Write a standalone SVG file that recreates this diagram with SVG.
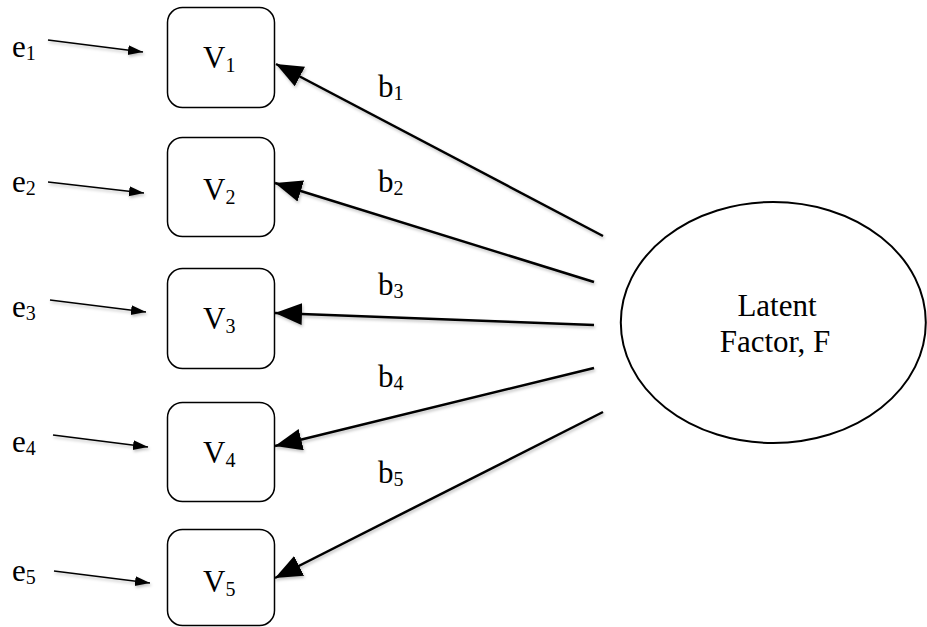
<svg xmlns="http://www.w3.org/2000/svg" width="927" height="627" viewBox="0 0 927 627">
<style>
  text { font-family: "Liberation Serif", "Times New Roman", serif; fill: #000; }
  .lbl { font-size: 31px; }
  .sub { font-size: 20px; }
  .box { fill: #fff; stroke: #000; stroke-width: 1.5; }
  .big { stroke: #000; stroke-width: 2.5; fill: none; marker-end: url(#bigHead); }
  .small { stroke: #000; stroke-width: 1.5; fill: none; marker-end: url(#smallHead); }
</style>
<defs>
  <filter id="sh" x="-10%" y="-10%" width="130%" height="130%">
    <feDropShadow dx="1" dy="2" stdDeviation="1.5" flood-color="#000" flood-opacity="0.25"/>
  </filter>
  <marker id="bigHead" markerUnits="userSpaceOnUse" markerWidth="28" markerHeight="24" refX="27" refY="11" orient="auto">
    <path d="M0,0 L27,11 L0,22 z" fill="#000"/>
  </marker>
  <marker id="smallHead" markerUnits="userSpaceOnUse" markerWidth="16" markerHeight="12" refX="15" refY="5" orient="auto">
    <path d="M0,0 L15,5 L0,10 z" fill="#000"/>
  </marker>
</defs>

<g id="connectors" filter="url(#sh)">
  <line class="small" x1="48" y1="40" x2="143" y2="52"/>
  <line class="small" x1="48" y1="182" x2="144" y2="193"/>
  <line class="small" x1="50" y1="300" x2="146" y2="312"/>
  <line class="small" x1="53" y1="435" x2="148" y2="447"/>
  <line class="small" x1="54" y1="571" x2="150" y2="583"/>
  <line class="big" x1="603" y1="236" x2="276" y2="64"/>
  <line class="big" x1="594" y1="282" x2="275" y2="183"/>
  <line class="big" x1="594" y1="325" x2="275" y2="313"/>
  <line class="big" x1="594" y1="368" x2="275" y2="446"/>
  <line class="big" x1="603" y1="412" x2="275" y2="578"/>
</g>

<g id="labels-e">
  <text class="lbl" x="12" y="57">e<tspan class="sub" dy="3">1</tspan></text>
  <text class="lbl" x="12" y="192">e<tspan class="sub" dy="3">2</tspan></text>
  <text class="lbl" x="12" y="317">e<tspan class="sub" dy="3">3</tspan></text>
  <text class="lbl" x="12" y="452">e<tspan class="sub" dy="3">4</tspan></text>
  <text class="lbl" x="12" y="581">e<tspan class="sub" dy="3">5</tspan></text>
</g>

<g id="labels-b">
  <text class="lbl" x="378" y="97">b<tspan class="sub" dy="3">1</tspan></text>
  <text class="lbl" x="378" y="192">b<tspan class="sub" dy="3">2</tspan></text>
  <text class="lbl" x="378" y="295">b<tspan class="sub" dy="3">3</tspan></text>
  <text class="lbl" x="378" y="387">b<tspan class="sub" dy="3">4</tspan></text>
  <text class="lbl" x="378" y="483">b<tspan class="sub" dy="3">5</tspan></text>
</g>

<g id="V1">
  <rect class="box" x="167.5" y="7.5" width="107" height="100" rx="15"/>
  <text class="lbl" x="203" y="68">V<tspan class="sub" dy="4">1</tspan></text>
</g>
<g id="V2">
  <rect class="box" x="167.5" y="137.5" width="107" height="99" rx="15"/>
  <text class="lbl" x="203" y="200">V<tspan class="sub" dy="4">2</tspan></text>
</g>
<g id="V3">
  <rect class="box" x="167.5" y="268.5" width="107" height="100" rx="15"/>
  <text class="lbl" x="203" y="329">V<tspan class="sub" dy="4">3</tspan></text>
</g>
<g id="V4">
  <rect class="box" x="167.5" y="402.5" width="107" height="99" rx="15"/>
  <text class="lbl" x="203" y="463">V<tspan class="sub" dy="4">4</tspan></text>
</g>
<g id="V5">
  <rect class="box" x="167.5" y="529.5" width="107" height="96" rx="15"/>
  <text class="lbl" x="203" y="592">V<tspan class="sub" dy="4">5</tspan></text>
</g>

<g id="F">
  <ellipse cx="773.3" cy="322.5" rx="152.5" ry="120.5" fill="#fff" stroke="#000" stroke-width="2"/>
  <text class="lbl" x="777" y="316" text-anchor="middle">Latent</text>
  <text class="lbl" x="775" y="352" text-anchor="middle">Factor, F</text>
</g>
</svg>
